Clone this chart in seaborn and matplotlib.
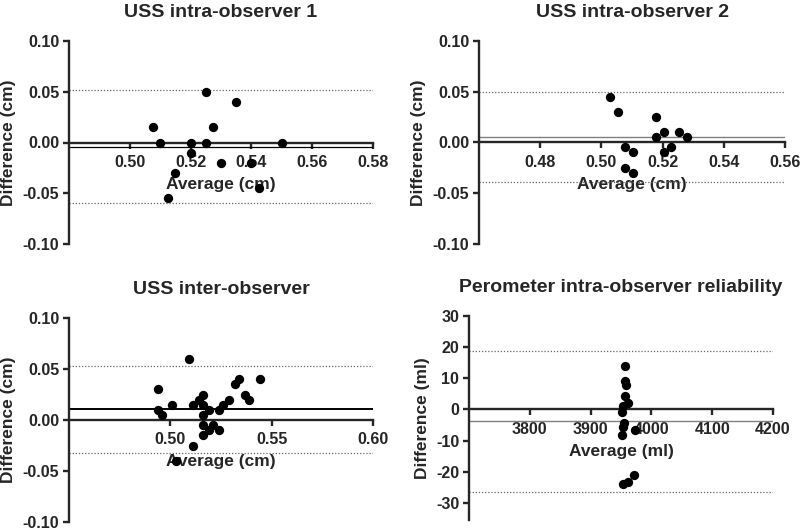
import pandas as pd
import matplotlib.pyplot as plt
import seaborn as sns
from matplotlib.ticker import FormatStrFormatter

# Bland-Altman data
titles = ['USS intra-observer 1', 'USS intra-observer 2',
          'USS inter-observer', 'Perometer intra-observer reliability']

avg_intra1 = [0.5075, 0.510, 0.5125, 0.515, 0.520, 0.520, 0.525, 0.525,
              0.5275, 0.530, 0.535, 0.540, 0.5425, 0.550]
diff_intra1 = [0.015, 0.000, -0.055, -0.030, 0.000, -0.010, 0.050, 0.000,
               0.015, -0.020, 0.040, -0.020, -0.045, 0.000]

avg_intra2 = [0.5027, 0.5053, 0.5077, 0.5077, 0.5102, 0.5102, 0.5178,
              0.5178, 0.5203, 0.5203, 0.5228, 0.5255, 0.528]
diff_intra2 = [0.045, 0.030, -0.005, -0.025, -0.010, -0.030, 0.025,
               0.005, 0.010, -0.010, -0.005, 0.010, 0.005]

avg_inter = [0.494, 0.494, 0.496, 0.501, 0.503, 0.509, 0.511, 0.511, 0.514,
             0.516, 0.516, 0.516, 0.516, 0.516, 0.519, 0.519, 0.521, 0.524,
             0.524, 0.526, 0.529, 0.532, 0.534, 0.537, 0.539, 0.544]
diff_inter = [0.030, 0.010, 0.005, 0.015, -0.040, 0.060, 0.015, -0.025, 0.020,
              0.025, 0.015, 0.005, -0.005, -0.015, 0.010, -0.010, -0.005, 0.010,
              -0.010, 0.015, 0.020, 0.035, 0.040, 0.025, 0.020, 0.040]

avg_pero = [3957, 3957, 3958, 3957, 3962, 3954, 3951, 3955, 3954, 3951,
            3973, 3971, 3962, 3954]
diff_pero = [14, 9, 8, 4.4, 2.2, 1.2, -0.8, -4.2, -5.6, -8.1,
             -6.7, -21, -23.4, -24.1]

# bias and limits of agreement
bias = [-0.004, 0.0055, 0.0105, -3.6]
upper_loa = [0.0515, 0.050, 0.053, 18.9]
lower_loa = [-0.0595, -0.0395, -0.032, -26.6]

sns.set_style('ticks')
plt.rcParams['font.family'] = ['Liberation Sans', 'DejaVu Sans']
plt.rcParams['font.weight'] = 'bold'
plt.rcParams['axes.labelweight'] = 'bold'
plt.rcParams['axes.titleweight'] = 'bold'
plt.rcParams['axes.unicode_minus'] = False

fig = plt.figure(figsize=(8, 5.3), dpi=100)

positions = [[69 / 800, 1 - 244 / 530, 304 / 800, 203 / 530],
             [479 / 800, 1 - 243.5 / 530, 306 / 800, 202.5 / 530],
             [69 / 800, 1 - 522 / 530, 304 / 800, 204 / 530],
             [469 / 800, 1 - 520 / 530, 304 / 800, 204 / 530]]

data = [(avg_intra1, diff_intra1), (avg_intra2, diff_intra2),
        (avg_inter, diff_inter), (avg_pero, diff_pero)]
xlims = [(0.48, 0.58), (0.46, 0.56), (0.45, 0.60), (3700, 4200)]
xticks = [[0.50, 0.52, 0.54, 0.56, 0.58], [0.48, 0.50, 0.52, 0.54, 0.56],
          [0.50, 0.55, 0.60], [3800, 3900, 4000, 4100, 4200]]
ylims = [(-0.10, 0.10), (-0.10, 0.10), (-0.10, 0.10), (-35.5, 30)]
yticks = [[-0.10, -0.05, 0.00, 0.05, 0.10]] * 3 + [[-30, -20, -10, 0, 10, 20, 30]]
units = ['cm', 'cm', 'cm', 'ml']
bias_style = [('black', 0.9), ('#808080', 1.0), ('black', 1.4), ('#808080', 1.0)]

for i in range(4):
    ax = fig.add_axes(positions[i])
    df = pd.DataFrame({'avg': data[i][0], 'diff': data[i][1]})

    # limits of agreement (dotted) and bias line
    ax.axhline(upper_loa[i], color='#666666', lw=0.9, ls=(0, (1, 1.5)), zorder=1)
    ax.axhline(lower_loa[i], color='#666666', lw=0.9, ls=(0, (1, 1.5)), zorder=1)
    ax.axhline(bias[i], color=bias_style[i][0], lw=bias_style[i][1], zorder=1)

    sns.scatterplot(x='avg', y='diff', data=df, color='black', s=45,
                    linewidth=0, ax=ax, zorder=3, clip_on=False)

    ax.set_xlim(*xlims[i])
    ax.set_ylim(*ylims[i])
    ax.set_xticks(xticks[i])
    ax.set_yticks(yticks[i])
    if i < 3:
        ax.xaxis.set_major_formatter(FormatStrFormatter('%.2f'))
        ax.yaxis.set_major_formatter(FormatStrFormatter('%.2f'))
    else:
        ax.xaxis.set_major_formatter(FormatStrFormatter('%d'))
        ax.yaxis.set_major_formatter(FormatStrFormatter('%d'))

    # GraphPad-like axes: x axis crosses at zero
    ax.spines['top'].set_visible(False)
    ax.spines['right'].set_visible(False)
    ax.spines['bottom'].set_position(('data', 0))
    ax.spines['left'].set_linewidth(1.7)
    ax.spines['bottom'].set_linewidth(1.7)
    ax.spines['bottom'].set_zorder(2)
    ax.tick_params(axis='both', direction='out', length=4, width=1.7,
                   labelsize=11.5)
    ax.tick_params(axis='x', pad=5)
    ax.tick_params(axis='y', pad=3)

    ax.set_title(titles[i], fontsize=14, fontweight='bold', pad=17)
    ax.set_xlabel('Average (%s)' % units[i], fontsize=12.5, labelpad=5)
    ax.set_ylabel('Difference (%s)' % units[i], fontsize=12.5, labelpad=4.5)
    for lab in ax.get_xticklabels() + ax.get_yticklabels():
        lab.set_fontweight('bold')

fig.savefig('out.png', dpi=100)
